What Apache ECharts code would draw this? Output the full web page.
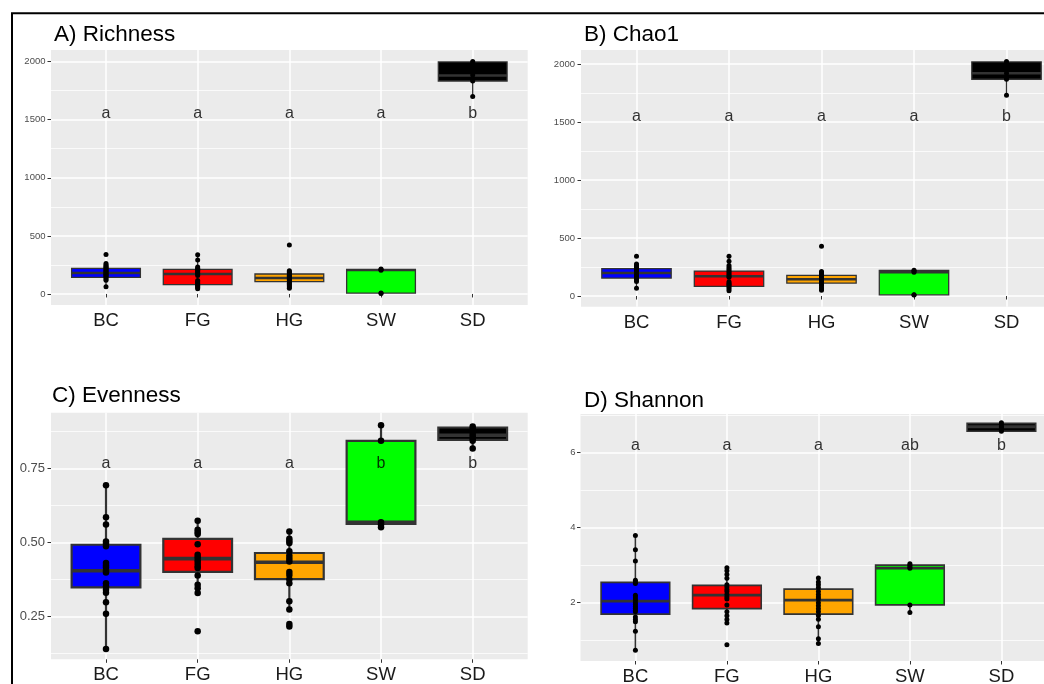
<!DOCTYPE html>
<html>
<head>
<meta charset="utf-8">
<script src="https://cdn.jsdelivr.net/npm/echarts@6/dist/echarts.min.js"></script>
<style>
  html, body { margin: 0; padding: 0; background: #ffffff; }
  #chart { width: 1044px; height: 684px; }
</style>
</head>
<body>
<div id="chart"></div>
<script>
// Sample groups and their fill colours
const groups = ['BC', 'FG', 'HG', 'SW', 'SD'];
const groupColors = ['#0000FF', '#FF0000', '#FFA500', '#00FF00', '#000000'];

// Box statistics per group: [lower whisker, Q1, median, Q3, upper whisker]
const richnessStats = [
  [63, 143, 181, 221, 260],
  [45, 80, 172, 212, 338],
  [50, 106, 138, 172, 200],
  [5, 8, 205, 212, 215],
  [1700, 1833, 1880, 1997, 2000]
];
const richnessPoints = [
  [339, 262, 250, 241, 233, 225, 216, 207, 199, 191, 184, 177, 169, 161, 152, 141, 129, 118, 63],
  [338, 293, 232, 221, 211, 201, 191, 181, 171, 160, 115, 105, 95, 85, 75, 65, 55, 45],
  [422, 200, 191, 182, 172, 162, 152, 142, 132, 122, 112, 102, 92, 82, 70, 60, 50],
  [215, 210, 205, 8, 5],
  [2000, 1985, 1935, 1885, 1845, 1833, 1700]
];
const richnessLetters = ['a', 'a', 'a', 'a', 'b'];
const richnessLetterY = 1550;
const richnessTicks = [0, 500, 1000, 1500, 2000];

const chaoStats = [
  [66, 155, 198, 236, 275],
  [45, 84, 170, 215, 342],
  [50, 112, 144, 178, 212],
  [8, 10, 205, 221, 222],
  [1730, 1868, 1920, 2017, 2020]
];
const chaoPoints = [
  [342, 275, 263, 252, 242, 232, 222, 212, 204, 197, 190, 182, 172, 162, 152, 138, 125, 66],
  [342, 300, 262, 246, 231, 216, 202, 187, 172, 162, 122, 110, 100, 90, 76, 60, 45],
  [428, 212, 202, 192, 182, 172, 162, 152, 142, 132, 122, 112, 102, 92, 76, 60, 50],
  [222, 215, 205, 10, 8],
  [2020, 2000, 1960, 1920, 1880, 1868, 1730]
];
const chaoLetters = ['a', 'a', 'a', 'a', 'b'];
const chaoLetterY = 1550;
const chaoTicks = [0, 500, 1000, 1500, 2000];

const evennessStats = [
  [0.137, 0.348, 0.404, 0.492, 0.693],
  [0.329, 0.400, 0.445, 0.512, 0.573],
  [0.273, 0.376, 0.433, 0.464, 0.537],
  [0.551, 0.562, 0.568, 0.843, 0.896],
  [0.817, 0.846, 0.862, 0.888, 0.891]
];
const evennessPoints = [
  [0.693, 0.585, 0.560, 0.503, 0.495, 0.487, 0.430, 0.422, 0.415, 0.405, 0.398, 0.362, 0.352, 0.340, 0.330, 0.298, 0.259, 0.140],
  [0.573, 0.543, 0.535, 0.528, 0.494, 0.458, 0.450, 0.440, 0.430, 0.420, 0.413, 0.388, 0.357, 0.345, 0.329, 0.200],
  [0.537, 0.512, 0.505, 0.498, 0.470, 0.455, 0.445, 0.435, 0.400, 0.390, 0.375, 0.362, 0.301, 0.273, 0.224, 0.216],
  [0.896, 0.843, 0.568, 0.560, 0.551],
  [0.891, 0.884, 0.875, 0.866, 0.858, 0.850, 0.843, 0.817]
];
const evennessLetters = ['a', 'a', 'a', 'b', 'b'];
const evennessLetterY = 0.765;
const evennessTicks = [0.25, 0.5, 0.75];

const shannonStats = [
  [0.73, 1.695, 2.04, 2.54, 3.79],
  [1.46, 1.84, 2.20, 2.46, 2.93],
  [0.91, 1.695, 2.07, 2.36, 2.66],
  [1.74, 1.94, 2.92, 3.00, 3.02],
  [6.56, 6.57, 6.69, 6.78, 6.80]
];
const shannonPoints = [
  [3.79, 3.41, 3.11, 2.60, 2.55, 2.51, 2.20, 2.15, 2.10, 2.05, 2.00, 1.95, 1.90, 1.85, 1.80, 1.76, 1.62, 1.55, 1.49, 1.24, 0.73],
  [2.93, 2.85, 2.75, 2.65, 2.48, 2.42, 2.35, 2.30, 2.22, 2.15, 2.10, 1.94, 1.76, 1.65, 1.55, 1.46, 0.88],
  [2.66, 2.55, 2.48, 2.40, 2.30, 2.22, 2.15, 2.10, 2.00, 1.92, 1.84, 1.76, 1.66, 1.56, 1.36, 1.04, 0.91],
  [3.04, 3.00, 2.95, 2.92, 1.94, 1.74],
  [6.80, 6.75, 6.70, 6.66, 6.62, 6.57]
];
const shannonLetters = ['a', 'a', 'a', 'ab', 'b'];
const shannonLetterY = 6.18;
const shannonTicks = [2, 4, 6];

// ---- panel layout ----
const FONT = '"Liberation Sans", Arial, Helvetica, sans-serif';
const panels = [
  {
    title: 'A) Richness', titleAt: [54, 23], stats: richnessStats, points: richnessPoints,
    letters: richnessLetters, letterY: richnessLetterY, ticks: richnessTicks,
    panel: { left: 51, top: 50, width: 476.7, height: 255 }, range: [-95, 2100], axis: [0, 2500, 500],
    tickFont: 9.5, labelMargin: 5.5, fmt: v => String(v), pointSize: 5, lineW: 1.3, medianW: 2.4
  },
  {
    title: 'B) Chao1', titleAt: [584, 23.3], stats: chaoStats, points: chaoPoints,
    letters: chaoLetters, letterY: chaoLetterY, ticks: chaoTicks,
    panel: { left: 581, top: 50, width: 481, height: 256.7 }, range: [-92, 2120], axis: [0, 2500, 500],
    tickFont: 9.5, labelMargin: 6, fmt: v => String(v), pointSize: 5, lineW: 1.3, medianW: 2.4
  },
  {
    title: 'C) Evenness', titleAt: [52, 383.8], stats: evennessStats, points: evennessPoints,
    letters: evennessLetters, letterY: evennessLetterY, ticks: evennessTicks,
    panel: { left: 51, top: 412.7, width: 476.7, height: 246.6 }, range: [0.105, 0.938], axis: [0, 1, 0.25],
    tickFont: 13, labelMargin: 6, fmt: v => v.toFixed(2), pointSize: 6.5, lineW: 2.2, medianW: 3.6
  },
  {
    title: 'D) Shannon', titleAt: [584, 388.8], stats: shannonStats, points: shannonPoints,
    letters: shannonLetters, letterY: shannonLetterY, ticks: shannonTicks,
    panel: { left: 580.5, top: 414, width: 475.8, height: 247 }, range: [0.445, 7.03], axis: [0, 8, 2],
    tickFont: 9.5, labelMargin: 5, fmt: v => String(v), pointSize: 5, lineW: 1.6, medianW: 2.8
  }
];

function boxRenderer(p) {
  return function (params, api) {
    const x = api.value(0);
    const lo = api.coord([x, api.value(1)]);
    const q1 = api.coord([x, api.value(2)]);
    const md = api.coord([x, api.value(3)]);
    const q3 = api.coord([x, api.value(4)]);
    const hi = api.coord([x, api.value(5)]);
    const half = api.size([1, 0])[0] * 0.375;
    const stroke = '#333333';
    return {
      type: 'group',
      children: [
        { type: 'line', shape: { x1: lo[0], y1: lo[1], x2: q1[0], y2: q1[1] }, style: { stroke: stroke, lineWidth: p.lineW } },
        { type: 'line', shape: { x1: q3[0], y1: q3[1], x2: hi[0], y2: hi[1] }, style: { stroke: stroke, lineWidth: p.lineW } },
        { type: 'rect', shape: { x: q3[0] - half, y: q3[1], width: half * 2, height: q1[1] - q3[1] },
          style: { fill: groupColors[params.dataIndex], stroke: stroke, lineWidth: p.lineW } },
        { type: 'line', shape: { x1: md[0] - half, y1: md[1], x2: md[0] + half, y2: md[1] }, style: { stroke: stroke, lineWidth: p.medianW } }
      ]
    };
  };
}

const option = {
  animation: false,
  backgroundColor: '#ffffff',
  title: [],
  grid: [],
  xAxis: [],
  yAxis: [],
  series: [],
  graphic: [{
    type: 'rect', silent: true, z: 100,
    shape: { x: 12, y: 13.3, width: 1100, height: 700 },
    style: { fill: 'none', stroke: '#000000', lineWidth: 2 }
  }]
};

panels.forEach(function (p, k) {
  const b = p.panel;
  const unit = b.width / 5.2;
  const ppu = b.height / (p.range[1] - p.range[0]);
  const g = 3 * k;

  option.title.push({
    text: p.title, left: p.titleAt[0], top: p.titleAt[1], padding: 0,
    textStyle: { fontFamily: FONT, fontSize: 22.5, fontWeight: 'normal', color: '#000000' }
  });

  // grey panel background
  option.grid.push({ left: b.left, top: b.top, width: b.width, height: b.height, show: true,
    backgroundColor: '#EBEBEB', borderWidth: 0, z: -2, outerBoundsMode: 'none' });
  option.xAxis.push({ gridIndex: g, type: 'value', show: false });
  option.yAxis.push({ gridIndex: g, type: 'value', show: false });

  // y axis with major and minor grid lines
  option.grid.push({ left: b.left, width: b.width, top: b.top - (p.axis[1] - p.range[1]) * ppu,
    height: (p.axis[1] - p.axis[0]) * ppu, show: false, outerBoundsMode: 'none' });
  option.xAxis.push({ gridIndex: g + 1, type: 'value', show: false });
  option.yAxis.push({
    gridIndex: g + 1, type: 'value', min: p.axis[0], max: p.axis[1], interval: p.axis[2], z: -1,
    axisLine: { show: false },
    axisTick: { show: true, customValues: p.ticks, length: 3.5, lineStyle: { color: '#333333', width: 1 } },
    axisLabel: { show: true, customValues: p.ticks, formatter: p.fmt, color: '#4D4D4D',
      fontSize: p.tickFont, fontFamily: FONT, margin: p.labelMargin },
    splitLine: { show: true, lineStyle: { color: '#FFFFFF', width: 1.5 } },
    minorTick: { show: false, splitNumber: 2 },
    minorSplitLine: { show: true, lineStyle: { color: '#FFFFFF', width: 0.75 } }
  });

  // category axis running from the first to the last group centre
  option.grid.push({ left: b.left + 0.6 * unit, width: 4 * unit, top: b.top, height: b.height,
    show: false, outerBoundsMode: 'none' });
  option.xAxis.push({
    gridIndex: g + 2, type: 'category', data: groups, boundaryGap: false,
    axisLine: { show: false },
    axisTick: { show: true, length: 3.5, lineStyle: { color: '#333333', width: 1 } },
    axisLabel: { interval: 0, color: '#1A1A1A', fontSize: 18.5, fontFamily: FONT, margin: 6.5 },
    splitLine: { show: true, interval: 0, lineStyle: { color: '#FFFFFF', width: 1.5 } }
  });
  option.yAxis.push({ gridIndex: g + 2, type: 'value', min: p.range[0], max: p.range[1], show: false });

  option.series.push({
    type: 'custom', xAxisIndex: g + 2, yAxisIndex: g + 2, silent: true, clip: false,
    renderItem: boxRenderer(p),
    encode: { x: 0, y: [1, 2, 3, 4, 5] },
    data: p.stats.map(function (s, i) { return [i].concat(s); })
  });

  const pts = [];
  p.points.forEach(function (vals, i) { vals.forEach(function (v) { pts.push([i, v]); }); });
  option.series.push({
    type: 'scatter', xAxisIndex: g + 2, yAxisIndex: g + 2, silent: true, clip: false,
    symbol: 'circle', symbolSize: p.pointSize, itemStyle: { color: '#000000', opacity: 1 },
    data: pts
  });

  option.series.push({
    type: 'scatter', xAxisIndex: g + 2, yAxisIndex: g + 2, silent: true, clip: false,
    symbolSize: 1, itemStyle: { color: 'rgba(0,0,0,0)' },
    label: { show: true, position: 'inside', color: '#000000', fontSize: 16, fontFamily: FONT,
      formatter: function (params) { return p.letters[params.dataIndex]; } },
    data: p.letters.map(function (l, i) { return [i, p.letterY]; })
  });
});

const chart = echarts.init(document.getElementById('chart'), null, { renderer: 'canvas' });
chart.setOption(option);
</script>
</body>
</html>
